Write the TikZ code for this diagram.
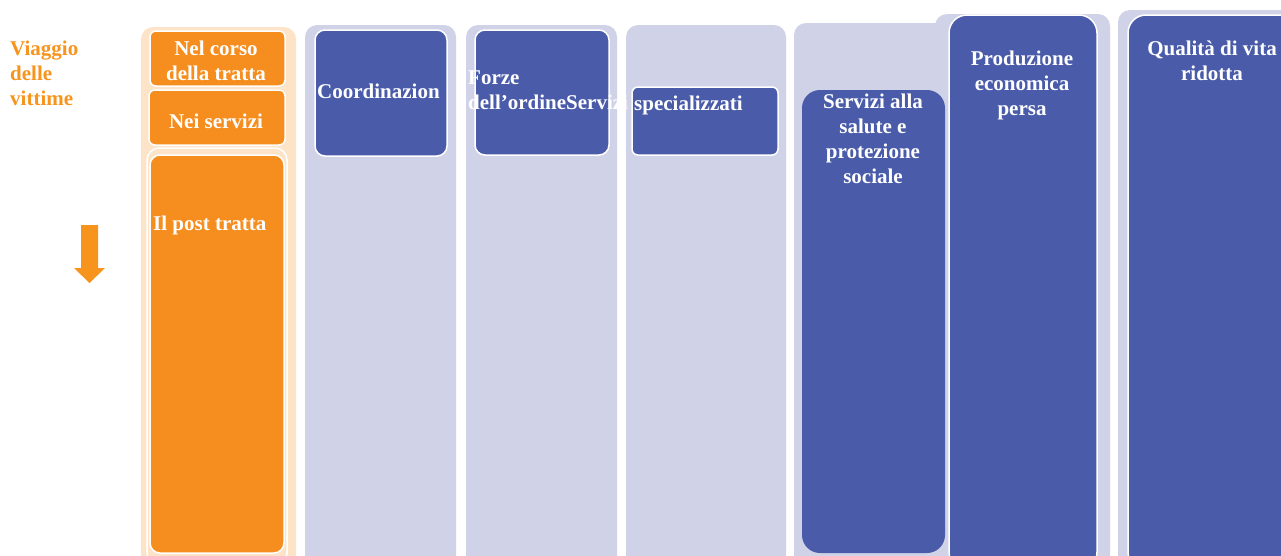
\documentclass[tikz,border=0pt]{standalone}
\usepackage{fontspec}
\setmainfont{Liberation Serif}
\definecolor{orangetxt}{HTML}{F7941D}
\definecolor{peach}{HTML}{FDE4C9}
\definecolor{orangefill}{HTML}{F68E1F}
\definecolor{lavender}{HTML}{D0D3E8}
\definecolor{bluefill}{HTML}{4A5CA9}
\begin{document}
\begin{tikzpicture}[x=1pt,y=-1pt,
  lbl/.style={font=\fontsize{21}{25}\selectfont\bfseries, inner sep=0pt, text=white},
  colbg/.style={fill=lavender, draw=none, rounded corners=12pt},
  obox/.style={fill=orangefill, draw=white, line width=1.5pt, rounded corners=6pt},
  bbox/.style={fill=bluefill, draw=white, line width=1.5pt, rounded corners=10pt}]
\useasboundingbox (0,0) rectangle (1281,555);
\clip (0,0) rectangle (1281,555);
% left heading
\node[lbl, text=orangetxt, anchor=north west, align=left] (title) at (10,41) {Viaggio\\delle\\vittime};
\fill[orangetxt] (81,225) -- (98,225) -- (98,268) -- (105,268) -- (89.5,283) -- (74,268) -- (81,268) -- cycle;
% orange column
\fill[peach, rounded corners=12pt] (141,27) rectangle (296,570);
\draw[obox] (150,31) rectangle (285,86);
\draw[obox] (149,90) rectangle (285,145);
\draw[fill=peach, draw=white, line width=1.5pt, rounded corners=12pt] (147,148) rectangle (287,565);
\draw[obox, rounded corners=10pt] (150,155) rectangle (284,553);
% lavender columns
\fill[colbg] (305,25) rectangle (456,570);
\fill[colbg] (466,25) rectangle (617,570);
\fill[colbg] (626,25) rectangle (786,570);
\fill[colbg] (935,14) rectangle (1110,570);
\fill[colbg] (794,23) rectangle (952,570);
\fill[colbg] (1118,10) rectangle (1300,570);
% blue boxes
\draw[bbox] (315,30) rectangle (447,156);
\draw[bbox] (475,30) rectangle (609,155);
\draw[bbox, rounded corners=6pt] (632,87) rectangle (778,155);
\fill[bluefill, rounded corners=18pt] (802,90) rectangle (945,553);
\draw[bbox, rounded corners=18pt] (949,15) rectangle (1097,570);
\draw[bbox, rounded corners=18pt] (1128,15) rectangle (1300,570);
% labels
\node[lbl, anchor=north, align=center] (nel) at (216,41) {Nel corso\\della tratta};
\node[lbl, anchor=base] (nei) at (216,128) {Nei servizi};
\node[lbl, anchor=base west] (post) at (153,230) {Il post tratta};
\node[lbl, anchor=base west] (coord) at (317,98) {Coordinazion};
\node[lbl, anchor=north west, align=left] (forze) at (468,71) {Forze\\dell’ordineServizi};
\node[lbl, anchor=base west] (spec) at (634,110) {specializzati};
\node[lbl, anchor=north, align=center] (salute) at (873,94) {Servizi alla\\salute e\\protezione\\sociale};
\node[lbl, anchor=north, align=center] (prod) at (1022,51) {Produzione\\economica\\persa};
\node[lbl, anchor=north, align=center] (qual) at (1212,41) {Qualità di vita\\ridotta};
\end{tikzpicture}
\end{document}
